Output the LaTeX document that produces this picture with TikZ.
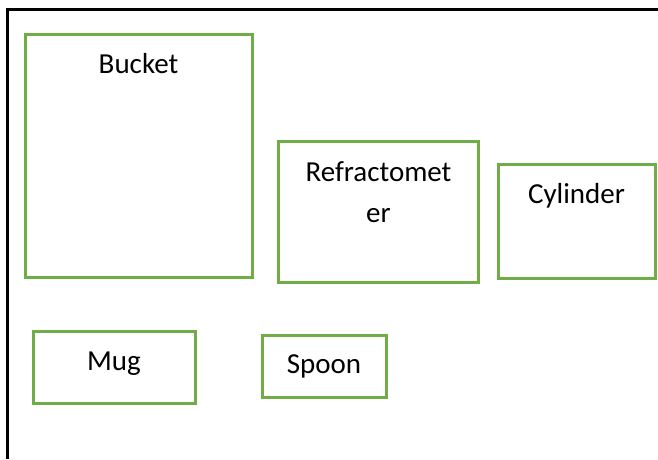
\documentclass[tikz,border=0pt]{standalone}
\usepackage{fontspec}
\setmainfont{Carlito}
\usetikzlibrary{positioning}
\definecolor{boxgreen}{HTML}{70AD47}

\begin{document}
\begin{tikzpicture}[
    x = 1pt, y = -1pt,
    frame/.style = {line width=3pt, black},
    item/.style = {rectangle, draw=boxgreen, line width=3pt, inner sep=0pt},
    tag/.style = {anchor=base, inner sep=0pt, align=center, font=\fontsize{29}{41}\selectfont},
]
    \useasboundingbox (0,0) rectangle (658,459);
    % Cadre noir, ouvert en bas et à droite
    \coordinate (F-east)   at (658,9);
    \coordinate (F-corner) at (7,9);
    \coordinate (F-south)  at (7,459);
    \draw[frame] (F-east) -- (F-corner) -- (F-south);
    % Une boîte par objet : nom/centre/largeur/hauteur/ligne de base (dernière ligne)/texte
    \foreach \name/\x/\y/\w/\h/\dy/\txt in {
        bucket/138.5/155.5/227/243/41/Bucket,
        refract/378.5/212/200/141/82/Refractomet\\er,
        cylinder/576.5/221/157/114/41/Cylinder,
        mug/114/367/162/72/41/Mug,
        spoon/324/366/124/62/40/Spoon}
    {
        \node[item, minimum width=\w pt, minimum height=\h pt] (\name) at (\x,\y) {};
        \node[tag] (\name-txt) at ([yshift=-\dy pt]\name.north) {\txt};
    }
\end{tikzpicture}
\end{document}
